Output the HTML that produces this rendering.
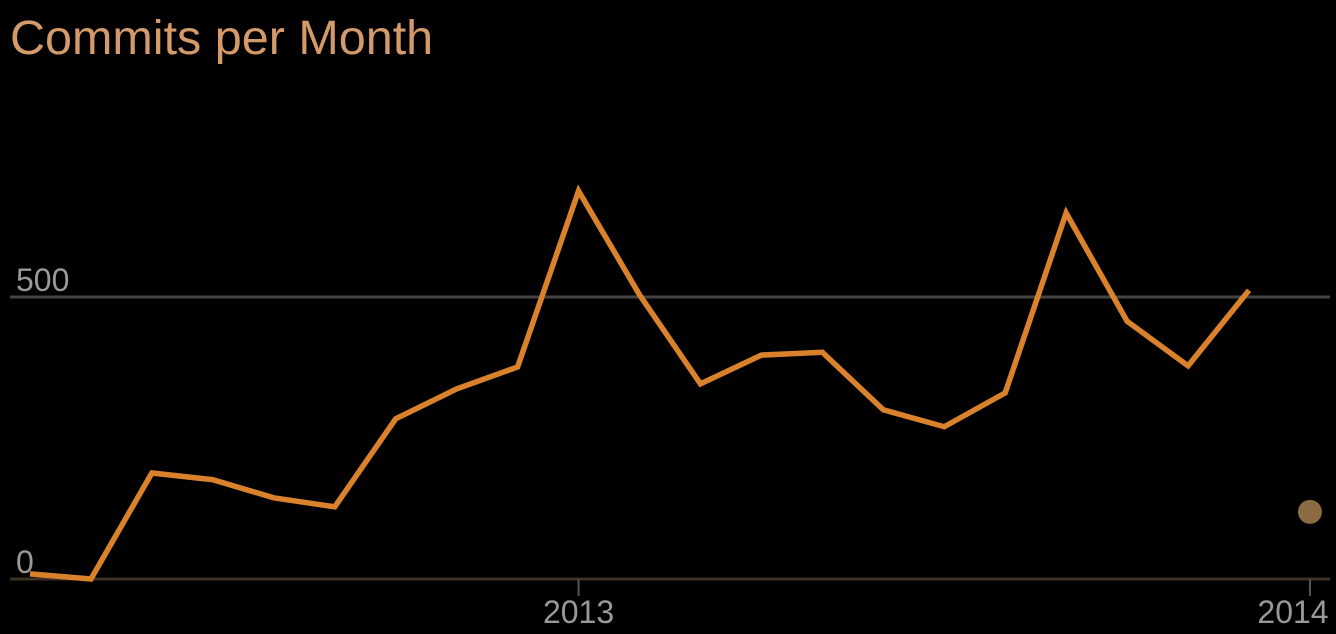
<!DOCTYPE html>
<html><head><meta charset="utf-8"><style>
html,body{margin:0;padding:0;background:#000;width:1336px;height:634px;overflow:hidden}
svg{display:block}
</style></head><body>
<svg id="chart" width="1336" height="634" font-family="Liberation Sans, sans-serif">
<text x="10" y="54" font-size="48.5" fill="#d49a6a">Commits per Month</text>
<g id="grid"></g>
<g id="marks"></g>
</svg>
<script>
const months = ["2012-04","2012-05","2012-06","2012-07","2012-08","2012-09","2012-10","2012-11","2012-12","2013-01","2013-02","2013-03","2013-04","2013-05","2013-06","2013-07","2013-08","2013-09","2013-10","2013-11","2013-12"];
const commits = [9,0,188,176,144,128,284,337,376,688,504,346,397,402,300,270,330,649,457,378,512];
const partialIndex = 21;
const partialValue = 119;
const yTicks = [0,500];
const xTickIdx = [9,21];
const xTickLabels = ["2013","2014"];

const ns="http://www.w3.org/2000/svg";
const x = i => 30 + i*60.95;
const y = v => 579 - v*0.564;
function mk(tag, attrs, parent){const e=document.createElementNS(ns,tag);for(const k in attrs)e.setAttribute(k,attrs[k]);parent.appendChild(e);return e;}
const grid=document.getElementById('grid'), marks=document.getElementById('marks');
yTicks.forEach(t=>{
  const l=mk('line',{x1:10,x2:1330,y1:y(t),y2:y(t),stroke:t===0?'#3d3126':'#444','stroke-width':3},grid);
  
  
  const tx=mk('text',{x:16,y:y(t)-6,'font-size':32,fill:'#999'},grid);
  tx.textContent=t;
  
  
});
xTickIdx.forEach((i,k)=>{
  const l=mk('line',{x1:x(i),x2:x(i),y1:579,y2:596,stroke:'#555','stroke-width':2},grid);
  
  
  const tx=mk('text',{x:Math.min(x(i),1293),y:623,'font-size':32,fill:'#999','text-anchor':'middle'},grid);
  tx.textContent=xTickLabels[k];
  
  
});
const p=mk('polyline',{points:commits.map((v,i)=>x(i)+','+y(v)).join(' '),fill:'none',stroke:'#d9822b','stroke-width':5.5,'stroke-linejoin':'miter'},marks);


const c=mk('circle',{cx:x(partialIndex),cy:y(partialValue),r:12,fill:'#8c6a43'},marks);


</script>
</body></html>
